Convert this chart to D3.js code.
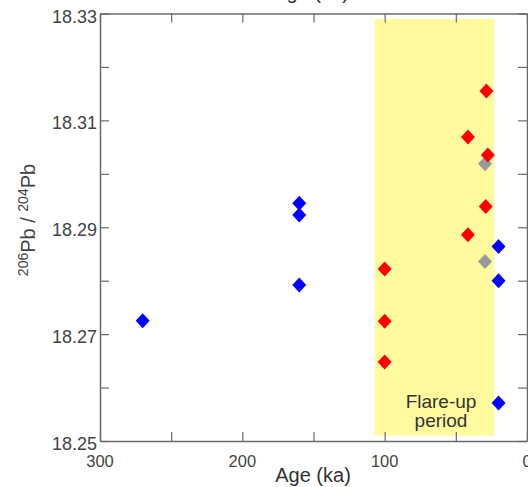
<!DOCTYPE html>
<html>
<head>
<meta charset="utf-8">
<script src="https://cdn.jsdelivr.net/npm/d3@7"></script>
<style>
  html, body { margin: 0; padding: 0; background: #fff; }
  svg { display: block; font-family: "Liberation Sans", Arial, sans-serif; }
</style>
</head>
<body>
<svg id="chart" width="528" height="487"></svg>
<script>
// ---- data ----
const blueAge   = [270, 160, 160, 160, 20, 20, 20];
const blueRatio = [18.2725, 18.2945, 18.2923, 18.2792, 18.2864, 18.2800, 18.2571];

const redAge   = [100, 100, 100, 28.5, 41.5, 27.5, 29, 41.5];
const redRatio = [18.2822, 18.2724, 18.2648, 18.3155, 18.3069, 18.3035, 18.2939, 18.2886];

const grayAge   = [29.5, 29.5];
const grayRatio = [18.3019, 18.2836];

const flareUp = [107, 23];          // age range of the flare-up band (ka)
const xTicksLabeled = [300, 200, 100, 0];
const xTicksAll = [300, 250, 200, 150, 100, 50, 0];
const yTicksLabeled = [18.25, 18.27, 18.29, 18.31, 18.33];
const yTicksAll = [18.25, 18.26, 18.27, 18.28, 18.29, 18.30, 18.31, 18.32, 18.33];

// ---- layout ----
const svg = d3.select("#chart");
const L = 100, R = 527, T = 13.5, B = 441;
const x = d3.scaleLinear().domain([300, 0]).range([L, R]);
const y = d3.scaleLinear().domain([18.25, 18.33]).range([B, T]);

// flare-up band
svg.append("rect")
  .attr("x", x(flareUp[0]))
  .attr("width", x(flareUp[1]) - x(flareUp[0]))
  .attr("y", y(18.329))
  .attr("height", y(18.251) - y(18.329))
  .attr("fill", "#fffb9e");

// axes (ticks inward)
const axisColor = "#6a6a6a";
const tickLen = 9;
function styleAxis(g) {
  g.selectAll("path").attr("stroke", axisColor).attr("stroke-width", 1.5);
  g.selectAll("line").attr("stroke", axisColor).attr("stroke-width", 1.2);
  g.selectAll("text").remove();
}
svg.append("g").attr("transform", `translate(0,${B})`)
  .call(d3.axisBottom(x).tickValues(xTicksAll).tickSizeInner(-tickLen).tickSizeOuter(0))
  .call(styleAxis);
svg.append("g").attr("transform", `translate(0,${T})`)
  .call(d3.axisTop(x).tickValues(xTicksAll).tickSizeInner(-tickLen).tickSizeOuter(0))
  .call(styleAxis);
svg.append("g").attr("transform", `translate(${L},0)`)
  .call(d3.axisLeft(y).tickValues(yTicksAll).tickSizeInner(-tickLen).tickSizeOuter(0))
  .call(styleAxis);
svg.append("g").attr("transform", `translate(${R},0)`)
  .call(d3.axisRight(y).tickValues(yTicksAll).tickSizeInner(-tickLen).tickSizeOuter(0))
  .call(styleAxis);

// tick labels
const labelColor = "#444";
svg.append("g").selectAll("text").data(xTicksLabeled).join("text")
  .attr("x", d => x(d)).attr("y", 467)
  .attr("text-anchor", "middle")
  .attr("font-size", 16.5).attr("fill", labelColor)
  .text(d => d);
svg.append("g").selectAll("text").data(yTicksLabeled).join("text")
  .attr("x", 97).attr("y", d => y(d) + 9)
  .attr("text-anchor", "end")
  .attr("font-size", 18).attr("fill", labelColor)
  .text(d => d.toFixed(2));

// axis titles
svg.append("text")
  .attr("x", 313).attr("y", 482)
  .attr("text-anchor", "middle").attr("font-size", 20).attr("fill", "#333")
  .text("Age (ka)");
svg.append("text")
  .attr("x", 311).attr("y", -1)
  .attr("text-anchor", "middle").attr("font-size", 20).attr("fill", "#333")
  .text("Age (ka)");

const yl = svg.append("text")
  .attr("transform", "translate(35,220) rotate(-90)")
  .attr("text-anchor", "middle").attr("font-size", 20).attr("fill", "#444");
yl.append("tspan").attr("font-size", 14).attr("dy", -7).text("206");
yl.append("tspan").attr("dy", 7).text("Pb / ");
yl.append("tspan").attr("font-size", 14).attr("dy", -7).text("204");
yl.append("tspan").attr("dy", 7).text("Pb");

// flare-up label
const fl = svg.append("text").attr("text-anchor", "middle")
  .attr("font-size", 19).attr("fill", "#333");
fl.append("tspan").attr("x", 441).attr("y", 408).text("Flare-up");
fl.append("tspan").attr("x", 441).attr("y", 427).text("period");

// markers
const diamond = "M0,-7.5L7,0L0,7.5L-7,0Z";
function drawSeries(ages, ratios, color) {
  svg.append("g").selectAll("path").data(ages.map((a, i) => [a, ratios[i]])).join("path")
    .attr("d", diamond)
    .attr("transform", d => `translate(${x(d[0])},${y(d[1])})`)
    .attr("fill", color);
}
drawSeries(grayAge, grayRatio, "#999999");
drawSeries(redAge, redRatio, "#ff0000");
drawSeries(blueAge, blueRatio, "#0000ff");
</script>
</body>
</html>
